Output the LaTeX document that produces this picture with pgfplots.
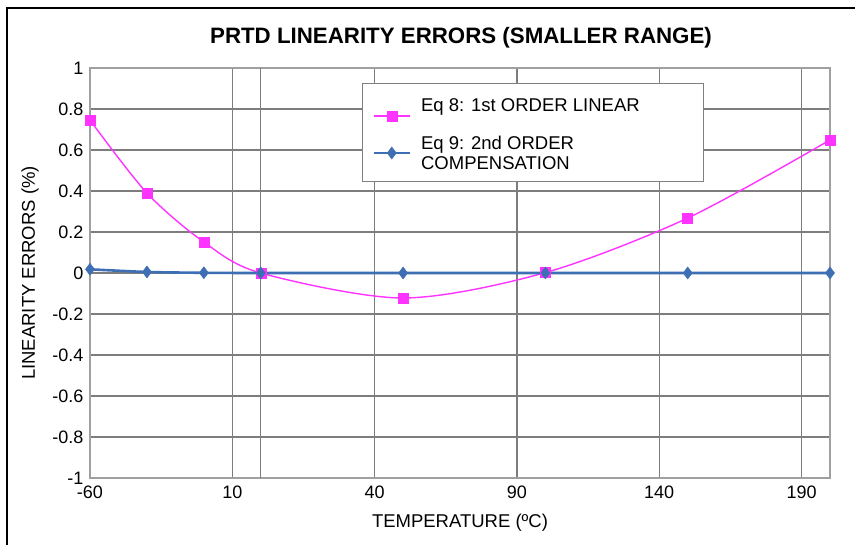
\documentclass[border=0pt]{standalone}
\usepackage{fontspec}
\setmainfont{Liberation Sans}
\usepackage{pgfplots}
\pgfplotsset{compat=1.18}
\definecolor{pinkc}{RGB}{255,51,255}
\definecolor{bluec}{RGB}{62,110,180}
\definecolor{gridc}{RGB}{125,125,125}
\definecolor{framec}{RGB}{160,160,160}
\begin{document}
\begin{tikzpicture}[x=1pt,y=1pt]
\useasboundingbox (-90,-67) rectangle (765,478);
\fill[white] (-90,-67) rectangle (765,478);
\draw[black, line width=2pt] (-83,-70) -- (-83,470) -- (770,470);
\node[font=\fontsize{22.3}{26}\selectfont\bfseries] at (371,440) {PRTD LINEARITY ERRORS (SMALLER RANGE)};
\begin{axis}[
  at={(0,0)}, anchor=south west,
  scale only axis, width=740pt, height=410pt,
  xmin=-60, xmax=200, ymin=-1, ymax=1,
  xtick={-60,-10,40,90,140,190},
  xticklabels={-60,10,40,90,140,190},
  extra x ticks={0}, extra x tick labels={},
  extra x tick style={grid=major},
  ytick={-1,-0.8,-0.6,-0.4,-0.2,0,0.2,0.4,0.6,0.8,1},
  yticklabel style={/pgf/number format/fixed, /pgf/number format/assume math mode=true, xshift=-3pt},
  xticklabel style={/pgf/number format/assume math mode=true, yshift=-4pt},
  grid=major,
  major grid style={gridc, line width=1.2pt},
  axis line style={framec, line width=1.2pt},
  major tick length=0pt,
  tick label style={font=\fontsize{18}{21}\selectfont},
  xlabel={TEMPERATURE (ºC)},
  ylabel={LINEARITY ERRORS (\%)},
  label style={font=\fontsize{18.5}{21}\selectfont},
  xlabel style={at={(axis description cs:0.5,0)}, anchor=center, yshift=-45pt},
  ylabel style={at={(axis description cs:-0.0811,0.5)}, anchor=center},
  legend style={at={(rel axis cs:0.36757,0.96341)}, anchor=north west,
    draw=gray, fill=white, line width=1pt, font=\fontsize{18.5}{20}\selectfont,
    inner xsep=10pt, inner ysep=12pt, row sep=0pt, column sep=10pt,
    nodes={inner sep=0pt, text depth=}},
  legend image code/.code={\draw[mark repeat=2,mark phase=2] plot coordinates {(0pt,0pt) (18pt,0pt) (36pt,0pt)};},
  legend cell align=left,
  clip=false,
]
\addplot[pinkc, line width=1.4pt, smooth, tension=0.5, mark=square*, mark size=5pt,
  mark options={solid, fill=pinkc, draw=pinkc, line width=0.5pt}] coordinates {
  (-60,0.746) (-40,0.390) (-20,0.151) (0,0.0) (50,-0.122) (100,0.002) (150,0.268) (200,0.649)
};
\addlegendentry{\makebox[272pt][l]{Eq 8: 1st ORDER LINEAR\rule[-24.7pt]{0pt}{40.7pt}}}
\addplot[bluec, line width=2.6pt, smooth, tension=0.5, mark=diamond*, mark size=6pt,
  mark options={solid, fill=bluec, draw=bluec, line width=0.5pt}] coordinates {
  (-60,0.018) (-40,0.005) (-20,0.001) (0,0) (50,0) (100,0) (150,0) (200,0)
};
\addlegendentry{\parbox[t]{272pt}{Eq 9: 2nd ORDER\\COMPENSATION}}
\end{axis}
\end{tikzpicture}
\end{document}
